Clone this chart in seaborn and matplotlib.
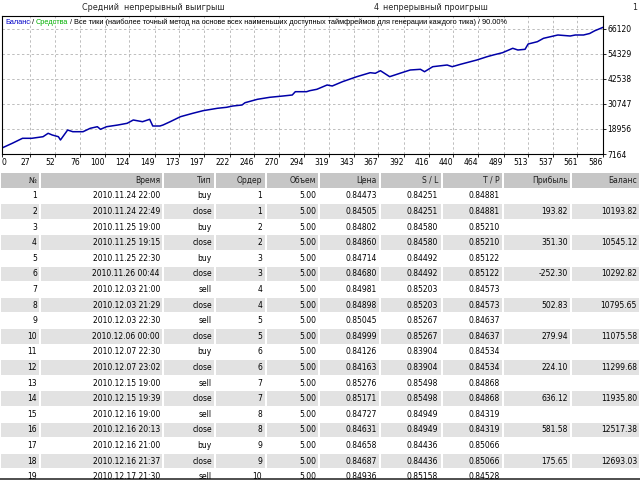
import matplotlib
matplotlib.use("Agg")
import matplotlib.pyplot as plt
from matplotlib.patches import Rectangle
import seaborn as sns
import pandas as pd

# balance curve (trade number, balance)
trade = [0, 10, 20, 29, 40, 45, 49, 55, 57, 64, 69, 79, 86, 93, 96, 102, 113, 122, 128, 137,
         144, 147, 154, 157, 164, 174, 186, 196, 210, 219, 225, 234, 237, 249, 261, 274, 283, 286, 297, 300,
         307, 317, 322, 332, 346, 359, 364, 369, 378, 388, 398, 408, 412, 420, 434, 439, 447, 463, 473, 479,
         488, 498, 503, 510, 513, 522, 528, 542, 554, 559, 567, 573, 578, 583, 586]
balance = [10000, 12210, 14570, 14570, 15320, 16930, 16125, 15320, 13770, 18480, 17680, 17680, 19280, 20040,
           18810, 20040, 20840, 21640, 23200, 22400, 23530, 20370, 20370, 20840, 22400, 24760, 26360, 27590,
           28720, 29190, 29800, 30270, 31360, 32960, 33900, 34520, 34990, 36550, 36550, 37020, 37680, 39710,
           39240, 41270, 43630, 45510, 45230, 46450, 43630, 45230, 46780, 47110, 45980, 48340, 49140, 48340,
           49460, 51500, 53060, 53860, 54940, 57020, 56210, 56540, 59040, 60130, 61730, 63290, 62820, 63290,
           63290, 64000, 65300, 66300, 66900]

x_ticks = [0, 27, 52, 76, 100, 124, 149, 173, 197, 222, 246, 270, 294, 319, 343, 367, 392, 416, 440,
           464, 489, 513, 537, 561, 586]
y_ticks = [7164, 18956, 30747, 42538, 54329, 66120]

# trade report table
headers = ["№", "Время", "Тип", "Ордер", "Объем", "Цена", "S / L", "T / P", "Прибыль", "Баланс"]
num = [str(i) for i in range(1, 20)]
times = ["2010.11.24 22:00", "2010.11.24 22:49", "2010.11.25 19:00", "2010.11.25 19:15",
         "2010.11.25 22:30", "2010.11.26 00:44", "2010.12.03 21:00", "2010.12.03 21:29",
         "2010.12.03 22:30", "2010.12.06 00:00", "2010.12.07 22:30", "2010.12.07 23:02",
         "2010.12.15 19:00", "2010.12.15 19:39", "2010.12.16 19:00", "2010.12.16 20:13",
         "2010.12.16 21:00", "2010.12.16 21:37", "2010.12.17 21:30"]
types = ["buy", "close", "buy", "close", "buy", "close", "sell", "close", "sell", "close",
         "buy", "close", "sell", "close", "sell", "close", "buy", "close", "sell"]
orders = ["1", "1", "2", "2", "3", "3", "4", "4", "5", "5", "6", "6", "7", "7", "8", "8", "9", "9", "10"]
volumes = ["5.00"] * 19
prices = ["0.84473", "0.84505", "0.84802", "0.84860", "0.84714", "0.84680", "0.84981", "0.84898",
          "0.85045", "0.84999", "0.84126", "0.84163", "0.85276", "0.85171", "0.84727", "0.84631",
          "0.84658", "0.84687", "0.84936"]
sl = ["0.84251", "0.84251", "0.84580", "0.84580", "0.84492", "0.84492", "0.85203", "0.85203",
      "0.85267", "0.85267", "0.83904", "0.83904", "0.85498", "0.85498", "0.84949", "0.84949",
      "0.84436", "0.84436", "0.85158"]
tp = ["0.84881", "0.84881", "0.85210", "0.85210", "0.85122", "0.85122", "0.84573", "0.84573",
      "0.84637", "0.84637", "0.84534", "0.84534", "0.84868", "0.84868", "0.84319", "0.84319",
      "0.85066", "0.85066", "0.84528"]
profit = ["", "193.82", "", "351.30", "", "-252.30", "", "502.83", "", "279.94", "", "224.10",
          "", "636.12", "", "581.58", "", "175.65", ""]
bal_col = ["", "10193.82", "", "10545.12", "", "10292.82", "", "10795.65", "", "11075.58", "",
           "11299.68", "", "11935.80", "", "12517.38", "", "12693.03", ""]

sns.set_style("white")
plt.rcParams["font.family"] = ["DejaVu Sans"]
FS = 5.5
BLUE = "#0000A8"

fig = plt.figure(figsize=(6.4, 4.8), dpi=100)
fig.set_facecolor("white")

# chart, pixel box x 2..603, y 16..154
ax = fig.add_axes([2 / 640, 1 - 154 / 480, 601 / 640, 138 / 480])
df = pd.DataFrame({"trade": trade, "balance": balance})
sns.lineplot(data=df, x="trade", y="balance", ax=ax, color=BLUE, linewidth=1.1)
ax.set_xlim(0, 586)
ax.set_ylim(7164, 72250)
ax.set_xticks(x_ticks)
ax.set_xticklabels([str(v) for v in x_ticks])
ax.set_yticks(y_ticks)
ax.set_yticklabels([str(v) for v in y_ticks])
ax.yaxis.tick_right()
ax.tick_params(axis="both", labelsize=FS, length=2, width=0.6, pad=1, colors="black",
               bottom=True, right=True)
for lbl in ax.get_xticklabels():
    lbl.set_ha("right")
ax.get_xticklabels()[0].set_ha("left")
ax.set_xlabel("")
ax.set_ylabel("")
ax.grid(True, color="#BDBDBD", linestyle=(0, (2.5, 2.5)), linewidth=0.7)
for s in ax.spines.values():
    s.set_color("black")
    s.set_linewidth(0.8)

# legend line at the top of the chart
TFONT = ["Liberation Sans", "DejaVu Sans"]
TFS = 5.3
prev = fig.text(5 / 640, 1 - 22 / 480, "Баланс", color="#0000C8", fontsize=TFS, va="center",
                family=TFONT)
parts = [(" / ", "black"), ("Средства", "#00B000"),
         (" / Все тики (наиболее точный метод на основе всех наименьших доступных таймфреймов "
          "для генерации каждого тика) / 90.00%", "black")]
for txt, col in parts:
    prev = ax.annotate(txt, xy=(1, 0), xycoords=prev, xytext=(0, 0), textcoords="offset points",
                       color=col, fontsize=TFS, va="bottom", ha="left", annotation_clip=False,
                       family=TFONT)

# summary row above the chart
fig.text(82 / 640, 1 - 7 / 480, "Средний  непрерывный выигрыш", fontsize=FS + 0.3, va="center")
fig.text(379 / 640, 1 - 7 / 480, "4", fontsize=FS + 0.3, va="center", ha="right")
fig.text(383 / 640, 1 - 7 / 480, "непрерывный проигрыш", fontsize=FS + 0.3, va="center")
fig.text(637 / 640, 1 - 7 / 480, "1", fontsize=FS + 0.3, va="center", ha="right")

# table, pixel coordinates
tb = fig.add_axes([0, 0, 1, 312 / 480])
tb.set_xlim(0, 640)
tb.set_ylim(480, 168)
tb.axis("off")
edges = [0, 40, 163, 215, 266, 319, 380, 442, 503, 571, 640]
right_x = [37, 160, 212, 262, 316, 377, 438, 500, 568, 637]
columns = [num, times, types, orders, volumes, prices, sl, tp, profit, bal_col]

for j in range(10):
    tb.add_patch(Rectangle((edges[j] + 1, 172.5), edges[j + 1] - edges[j] - 2, 15,
                           color="#C6C6C6", lw=0))
    tb.text(right_x[j], 180.3, headers[j], ha="right", va="center", fontsize=FS, color="#202020")

for i in range(19):
    yc = 195.8 + 15.6 * i
    if i % 2 == 1:
        for j in range(10):
            tb.add_patch(Rectangle((edges[j] + 1, yc - 7.3), edges[j + 1] - edges[j] - 2, 14.6,
                                   color="#E2E2E2", lw=0))
    for j in range(10):
        tb.text(right_x[j], yc, columns[j][i], ha="right", va="center", fontsize=FS, color="black")

tb.axhline(479.3, color="#303030", lw=1.2)

fig.savefig("out.png", dpi=100)
